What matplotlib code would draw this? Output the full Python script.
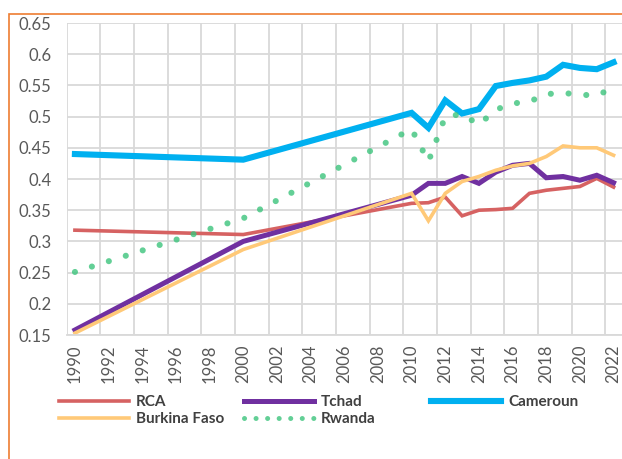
import matplotlib
matplotlib.use("Agg")
import matplotlib.pyplot as plt
from matplotlib.patches import Rectangle
from matplotlib.lines import Line2D

plt.rcParams['font.family'] = ['Lato', 'DejaVu Sans']

# years with data (gaps between 1990, 2000 and 2010 are joined by straight lines)
years = [1990, 2000, 2010, 2011, 2012, 2013, 2014, 2015, 2016,
         2017, 2018, 2019, 2020, 2021, 2022]

rca = [0.318, 0.311, 0.361, 0.362, 0.371, 0.341, 0.350, 0.351, 0.353,
       0.377, 0.382, 0.385, 0.388, 0.401, 0.387]
tchad = [0.158, 0.300, 0.374, 0.393, 0.393, 0.404, 0.393, 0.411, 0.422,
         0.425, 0.402, 0.404, 0.398, 0.406, 0.394]
cameroun = [0.440, 0.431, 0.506, 0.482, 0.526, 0.505, 0.512, 0.549, 0.554,
            0.558, 0.564, 0.583, 0.578, 0.576, 0.587]
burkina = [0.153, 0.287, 0.377, 0.333, 0.377, 0.396, 0.404, 0.414, 0.421,
           0.425, 0.436, 0.453, 0.450, 0.450, 0.438]
rwanda = [0.251, 0.337, 0.480, 0.428, 0.500, 0.504, 0.487, 0.511, 0.521,
          0.524, 0.536, 0.538, 0.535, 0.534, 0.546]

year_ticks = list(range(1990, 2023, 2))
year_labels = [str(y) for y in year_ticks]
y_ticks = [0.15, 0.2, 0.25, 0.3, 0.35, 0.4, 0.45, 0.5, 0.55, 0.6, 0.65]
y_labels = ['0.15', '0.2', '0.25', '0.3', '0.35', '0.4', '0.45', '0.5',
            '0.55', '0.6', '0.65']

fig = plt.figure(figsize=(6.22, 4.59), dpi=100)
ax = fig.add_axes([66.5 / 622, 1 - 335 / 459, 1 - 66.5 / 622, (335 - 23) / 459])

l_rca, = ax.plot(years, rca, color='#D66262', lw=2.6, label='RCA',
                 solid_joinstyle='miter')
l_tchad, = ax.plot(years, tchad, color='#7030A0', lw=3.6, label='Tchad',
                   solid_joinstyle='miter')
l_cam, = ax.plot(years, cameroun, color='#00B0F0', lw=4.4, label='Cameroun',
                 solid_joinstyle='miter')
l_bf, = ax.plot(years, burkina, color='#FFC978', lw=2.6, label='Burkina Faso',
                solid_joinstyle='miter')
l_rw, = ax.plot(years, rwanda, color='#3CC47C', alpha=0.8, lw=4.4,
                linestyle=(0, (0.01, 2.9)), dash_capstyle='round',
                label='Rwanda')
# legend sample for Rwanda uses tighter dots, like the spreadsheet legend
rw_key = Line2D([], [], color='#3CC47C', alpha=0.8, lw=3.6,
                linestyle=(0, (0.01, 2.3)), dash_capstyle='round',
                label='Rwanda')

ax.set_xlim(1989.5, 2022.5)
ax.set_ylim(0.15, 0.65)
ax.set_xticks(year_ticks)
ax.set_xticklabels(year_labels, rotation=90)
ax.set_yticks(y_ticks)
ax.set_yticklabels(y_labels)

# vertical gridlines sit between categories, every two years
ax.set_xticks([y - 0.5 for y in year_ticks], minor=True)
ax.grid(True, which='minor', axis='x', color='#D9D9D9', lw=1.3)
ax.grid(True, which='major', axis='y', color='#D9D9D9', lw=1.3)
ax.grid(False, which='major', axis='x')
ax.set_axisbelow(True)
for s in ax.spines.values():
    s.set_visible(False)
ax.spines['bottom'].set_visible(True)
ax.spines['bottom'].set_color('#D9D9D9')
ax.spines['bottom'].set_linewidth(1.3)

ax.tick_params(axis='both', which='both', length=0, labelsize=12,
               labelcolor='#595959')
ax.tick_params(axis='y', pad=11)
ax.tick_params(axis='x', pad=7)

# legend: three columns of equal width as in the spreadsheet
leg_kw = dict(frameon=False, loc='upper left', handlelength=4.6,
              handletextpad=0.45, labelspacing=0.2, borderpad=0,
              borderaxespad=0, prop={'weight': 'bold', 'size': 11})
cols = [([l_rca, l_bf], 59), ([l_tchad, rw_key], 244), ([l_cam], 431)]
for handles, x0 in cols:
    leg = fig.legend(handles=handles, bbox_to_anchor=(x0 / 622, 1 - 395 / 459),
                     **leg_kw)
    for t in leg.get_texts():
        t.set_color('#404040')

# orange chart border (cropped at the right and bottom)
fig.add_artist(Rectangle((9 / 622, -0.2), 1.5, 1.2 - 14 / 459,
                         transform=fig.transFigure, fill=False,
                         edgecolor='#ED7D31', lw=1.2))

fig.savefig('out.png', dpi=100)
